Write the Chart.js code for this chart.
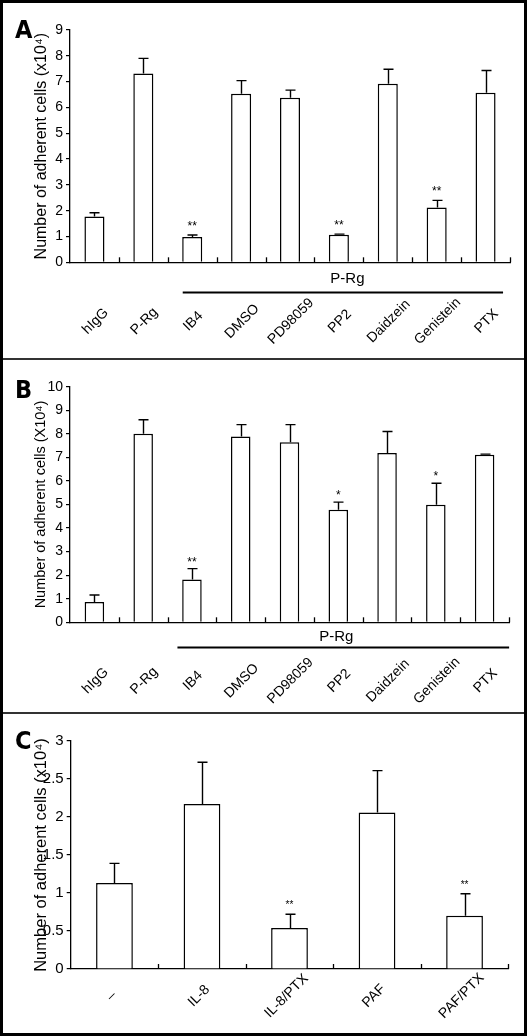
<!DOCTYPE html>
<html>
<head>
<meta charset="utf-8">
<script src="https://cdn.jsdelivr.net/npm/chart.js@4.4.1/dist/chart.umd.min.js"></script>
<style>
html,body{margin:0;padding:0;background:#fff}
#frame{position:relative;width:527px;height:1036px;box-sizing:border-box;border:3px solid #000;background:#fff}
.panel{position:relative;width:521px}
.panel canvas{display:block}
.sep{height:2px;background:#333}
.tag{position:absolute;left:12px;line-height:1;font-weight:bold;font-size:25px;font-family:'Liberation Sans Narrow','DejaVu Sans Condensed','Liberation Sans',sans-serif;color:#000}
</style>
</head>
<body>
<div id="frame">
  <div class="panel" style="height:355px"><div class="tag" style="top:14px">A</div><canvas id="chartA" width="521" height="355"></canvas></div>
  <div class="sep"></div>
  <div class="panel" style="height:352px"><div class="tag" style="top:17px">B</div><canvas id="chartB" width="521" height="352"></canvas></div>
  <div class="sep"></div>
  <div class="panel" style="height:319px"><div class="tag" style="top:14px">C</div><canvas id="chartC" width="521" height="319"></canvas></div>
</div>
<script>
// --- data (units: x10^4 cells) ---
const CATS_AB = ['hIgG','P-Rg','IB4','DMSO','PD98059','PP2','Daidzein','Genistein','PTX'];

const MEAN_A  = [1.77, 7.31, 0.98, 6.53, 6.38, 1.07, 6.92, 2.12, 6.57];
const ERR_A   = [0.15, 0.59, 0.08, 0.51, 0.29, 0.02, 0.56, 0.28, 0.86];
const STARS_A = ['', '', '**', '', '', '**', '', '**', ''];

const MEAN_B  = [0.86, 8.00, 1.82, 7.89, 7.64, 4.78, 7.19, 4.99, 7.11];
const ERR_B   = [0.30, 0.60, 0.46, 0.50, 0.75, 0.32, 0.91, 0.91, 0.03];
const STARS_B = ['', '', '**', '', '', '*', '', '*', ''];

const CATS_C  = ['\u2013', 'IL-8', 'IL-8/PTX', 'PAF', 'PAF/PTX'];
const MEAN_C  = [1.13, 2.17, 0.54, 2.06, 0.70];
const ERR_C   = [0.26, 0.55, 0.18, 0.55, 0.29];
const STARS_C = ['', '', '**', '', '**'];

const FONT = "'Liberation Sans', Arial, sans-serif";
const INK = '#000';

// error bars, significance stars, rotated category labels, up-ticks and the P-Rg bracket
const extras = {
  id: 'extras',
  afterDatasetsDraw(chart, args, o){
    const ctx = chart.ctx;
    const xs = chart.scales.x, ys = chart.scales.y;
    const area = chart.chartArea;
    const meta = chart.getDatasetMeta(0);
    const half = (xs.getPixelForValue(1) - xs.getPixelForValue(0)) / 2;
    ctx.save();
    ctx.strokeStyle = INK;
    ctx.fillStyle = INK;

    // category boundary ticks pointing up from the x axis
    ctx.lineWidth = 1.3;
    for(let i = 0; i < o.labels.length; i++){
      const bx = Math.round(xs.getPixelForValue(i) + half) + 0.5;
      ctx.beginPath(); ctx.moveTo(bx, area.bottom); ctx.lineTo(bx, area.bottom - 5); ctx.stroke();
    }

    // error bars (upper half only)
    ctx.lineWidth = 1.4;
    meta.data.forEach((bar, i) => {
      const top = ys.getPixelForValue(o.mean[i] + o.err[i]);
      const x = Math.round(bar.x) + 0.5;
      ctx.beginPath();
      ctx.moveTo(x, bar.y); ctx.lineTo(x, top);
      ctx.moveTo(x - o.cap, top); ctx.lineTo(x + o.cap, top);
      ctx.stroke();
      if(o.stars[i]){
        ctx.font = o.starFont;
        ctx.textAlign = 'center';
        ctx.textBaseline = 'alphabetic';
        ctx.fillText(o.stars[i], bar.x, top - o.starGap);
      }
    });

    // rotated category labels, centred under each category
    ctx.font = o.labelFont;
    ctx.textAlign = 'center';
    ctx.textBaseline = 'middle';
    o.labels.forEach((lab, i) => {
      ctx.save();
      ctx.translate(xs.getPixelForValue(i) + o.labelDx, area.bottom + o.labelDy);
      ctx.rotate(-Math.PI / 4);
      ctx.fillText(lab, 0, 0);
      ctx.restore();
    });

    // treatment bracket
    if(o.bracket){
      const b = o.bracket;
      const x0 = xs.getPixelForValue(b.from) + b.x0;
      const x1 = xs.getPixelForValue(b.to) + b.x1;
      const ly = Math.round(area.bottom + b.lineDy) + 0.5;
      ctx.lineWidth = 2;
      ctx.beginPath(); ctx.moveTo(x0, ly); ctx.lineTo(x1, ly); ctx.stroke();
      ctx.font = b.font;
      ctx.fillText(b.text, (x0 + x1) / 2 + b.textDx, area.bottom + b.textDy);
    }
    ctx.restore();
  }
};

function makeChart(id, cfg){
  return new Chart(document.getElementById(id), {
    type: 'bar',
    data: {
      labels: cfg.labels,
      datasets: [{
        data: cfg.mean,
        backgroundColor: '#fff',
        borderColor: INK,
        borderWidth: 1.5,
        barPercentage: cfg.barPct,
        categoryPercentage: 1
      }]
    },
    options: {
      responsive: false,
      animation: false,
      layout: { padding: { left: 29, right: cfg.padRight, top: cfg.padTop, bottom: 0 } },
      plugins: {
        legend: { display: false },
        tooltip: { enabled: false },
        extras: cfg.extras
      },
      scales: {
        x: {
          grid: { display: false, drawTicks: false },
          border: { color: INK, width: 1.3 },
          ticks: { display: false },
          afterFit: s => { s.height = cfg.below; }
        },
        y: {
          min: 0, max: cfg.max,
          ticks: { stepSize: cfg.step, color: INK, padding: 3, font: { family: FONT, size: cfg.tickSize },
                   callback: v => String(+v.toFixed(1)) },
          grid: { drawOnChartArea: false, drawTicks: true, tickLength: 4, color: INK, lineWidth: 1.2 },
          border: { color: INK, width: 1.3 },
          title: { display: true, text: cfg.title, color: INK, padding: 0, font: { family: FONT, size: cfg.titleSize } },
          afterFit: s => { s.width = cfg.axisW; }
        }
      }
    },
    plugins: [extras]
  });
}

makeChart('chartA', {
  labels: CATS_AB, mean: MEAN_A, max: 9, step: 1, barPct: 0.41,
  padTop: 27, padRight: 14, below: 95.7, axisW: 38, tickSize: 14, titleSize: 16,
  title: 'Number of adherent cells (x10\u2074)',
  extras: {
    labels: CATS_AB, mean: MEAN_A, err: ERR_A, stars: STARS_A, cap: 5,
    starFont: '12px ' + FONT, starGap: 5,
    labelFont: '14px ' + FONT, labelDx: 1, labelDy: 59,
    bracket: { text: 'P-Rg', from: 2, to: 8, x0: -9.5, x1: 17.5, lineDy: 29.4, textDy: 17, textDx: 4.5, font: '15px ' + FONT }
  }
});

makeChart('chartB', {
  labels: CATS_AB, mean: MEAN_B, max: 10, step: 1, barPct: 0.40,
  padTop: 26.7, padRight: 15, below: 89.7, axisW: 38, tickSize: 14, titleSize: 14.5,
  title: 'Number of adherent cells (X10\u2074)',
  extras: {
    labels: CATS_AB, mean: MEAN_B, err: ERR_B, stars: STARS_B, cap: 5,
    starFont: '12px ' + FONT, starGap: 3,
    labelFont: '14px ' + FONT, labelDx: 1, labelDy: 58.5,
    bracket: { text: 'P-Rg', from: 2, to: 8, x0: -14.5, x1: 24.5, lineDy: 24.4, textDy: 14.4, textDx: -7, font: '15px ' + FONT }
  }
});

makeChart('chartC', {
  labels: CATS_C, mean: MEAN_C, max: 3, step: 0.5, barPct: 0.42,
  padTop: 27, padRight: 15.7, below: 64, axisW: 38.7, tickSize: 15, titleSize: 16.5,
  title: 'Number of adherent cells (x10\u2074)',
  extras: {
    labels: CATS_C, mean: MEAN_C, err: ERR_C, stars: STARS_C, cap: 5,
    starFont: '10px ' + FONT, starGap: 6,
    labelFont: '14px ' + FONT, labelDx: -3, labelDy: 27,
    bracket: null
  }
});
</script>
</body>
</html>
